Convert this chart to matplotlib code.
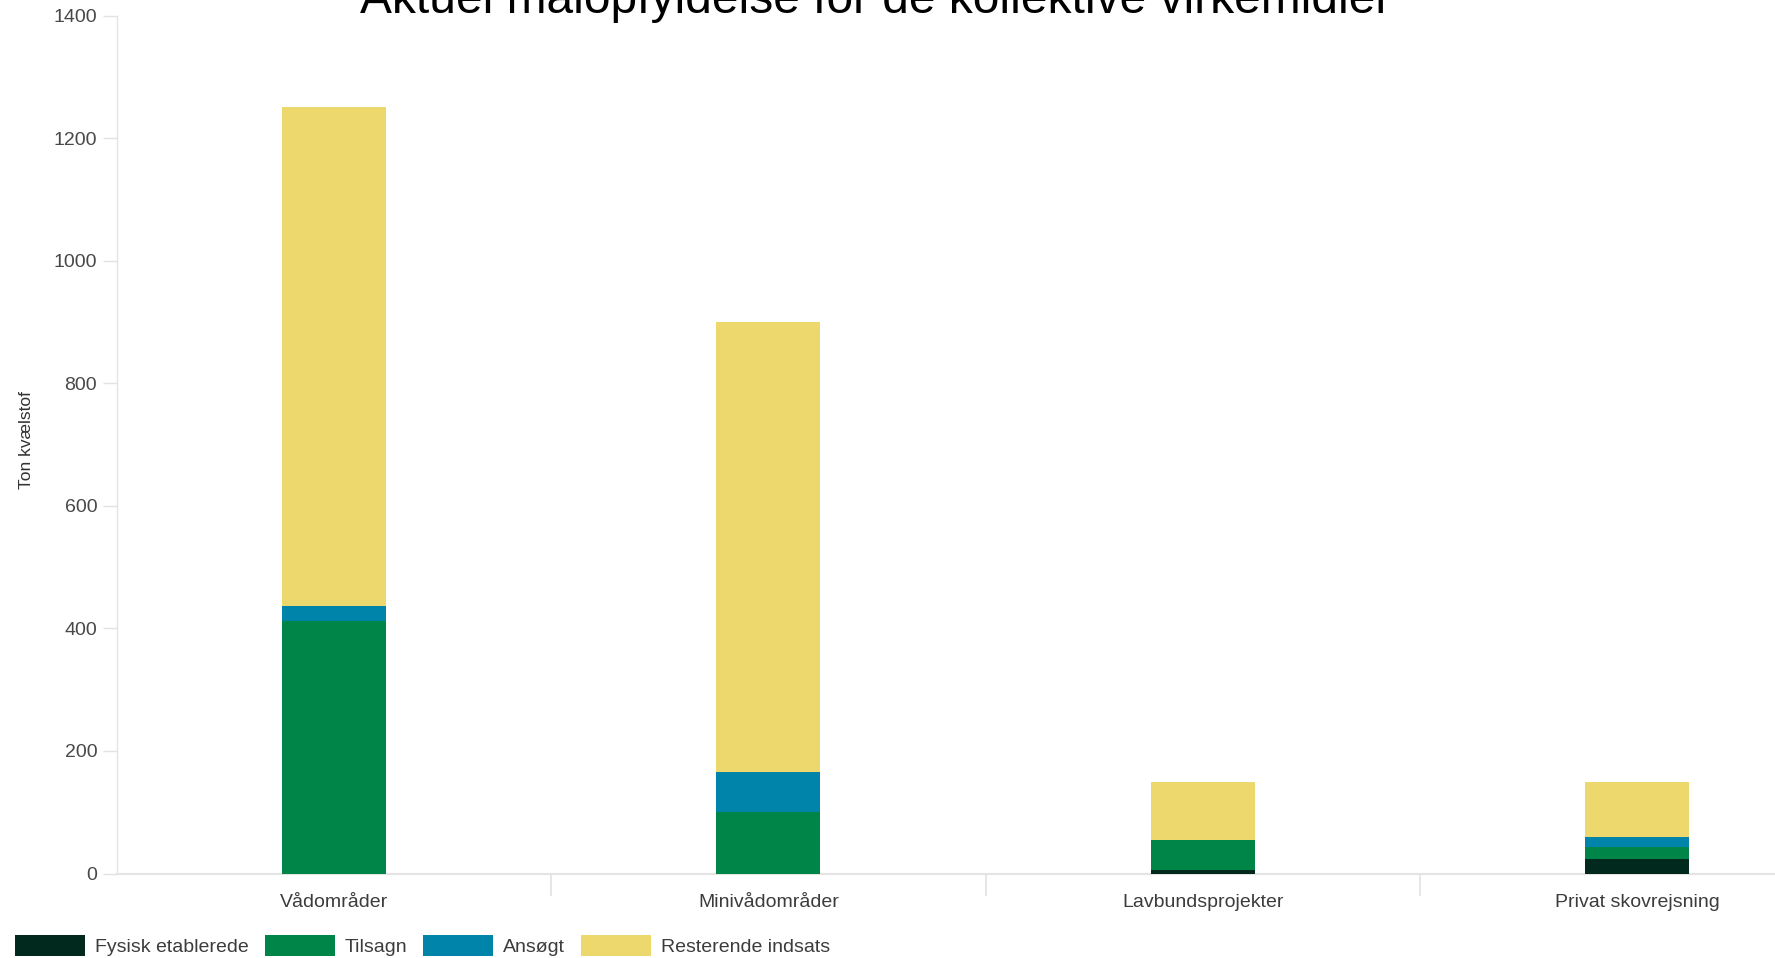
import matplotlib
matplotlib.use("Agg")
import matplotlib.pyplot as plt
import numpy as np

plt.rcParams['font.family'] = ['Liberation Sans', 'DejaVu Sans']

# Nitrogen reduction (ton N) per collective measure, split by project status
categories = ["Vådområder", "Minivådområder", "Lavbundsprojekter", "Privat skovrejsning"]
fysisk_etablerede = [0, 0, 5, 23]
tilsagn = [412, 100, 50, 20]
ansoegt = [24, 66, 0, 17]
resterende_indsats = [814, 734, 95, 90]

series_names = ["Fysisk etablerede", "Tilsagn", "Ansøgt", "Resterende indsats"]
series_values = [fysisk_etablerede, tilsagn, ansoegt, resterende_indsats]
series_colors = ["#01291e", "#008548", "#0084aa", "#ecd86c"]

title = "Aktuel målopfyldelse for de kollektive virkemidler"
y_label = "Ton kvælstof"
y_ticks = [0, 200, 400, 600, 800, 1000, 1200, 1400]

W, H = 1775, 958
fig = plt.figure(figsize=(W / 100, H / 100), dpi=100)
fig.patch.set_facecolor("white")

# the plot area continues past the right edge of the canvas
ax = fig.add_axes([117 / W, 84.5 / H, (1854 - 117) / W, (942.5 - 84.5) / H])
ax.set_facecolor("white")

x = np.arange(len(categories))
bottom = np.zeros(len(categories))
handles = []
for name, vals, col in zip(series_names, series_values, series_colors):
    vals = np.asarray(vals, dtype=float)
    h = ax.bar(x, vals, width=0.24, bottom=bottom, color=col, label=name,
               linewidth=0, zorder=3)
    handles.append(h)
    bottom += vals

ax.set_xlim(-0.5, len(categories) - 0.5)
ax.set_ylim(0, 1400)
ax.set_yticks(y_ticks)
ax.set_yticklabels([str(v) for v in y_ticks])
ax.set_xticks(x)
ax.set_xticklabels(categories)
ax.set_xticks(np.arange(len(categories) - 1) + 0.5, minor=True)

ax.tick_params(axis="x", which="major", length=0, pad=15, labelsize=14,
               labelcolor="#3c3c3c")
ax.tick_params(axis="x", which="minor", length=16, width=1.2, color="#e2e2e2",
               direction="out")
ax.tick_params(axis="y", which="major", length=10, width=1, color="#e2e2e2",
               pad=4.3, labelsize=14, labelcolor="#484848")

for s in ("top", "right"):
    ax.spines[s].set_visible(False)
ax.spines["left"].set_color("#e4e4e4")
ax.spines["left"].set_linewidth(1.0)
ax.spines["bottom"].set_color("#e4e4e4")
ax.spines["bottom"].set_linewidth(1.5)

fig.text(27 / W, 1 - 440 / H, y_label, rotation=90, ha="center", va="center",
         fontsize=12.5, color="#333333")

fig.text(876 / W, 1 - 13 / H, title, ha="center", va="baseline",
         fontsize=34.5, color="black")

leg = fig.legend(handles=handles, labels=series_names, loc="upper left",
                 bbox_to_anchor=(15 / W, 1 - 935 / H), ncol=4, frameon=False,
                 fontsize=14, handlelength=3.6, handleheight=1.25,
                 handletextpad=0.5, columnspacing=0.83, borderpad=0,
                 borderaxespad=0)
for t in leg.get_texts():
    t.set_color("#3c3c3c")

fig.savefig("out.png", dpi=100, facecolor="white")
